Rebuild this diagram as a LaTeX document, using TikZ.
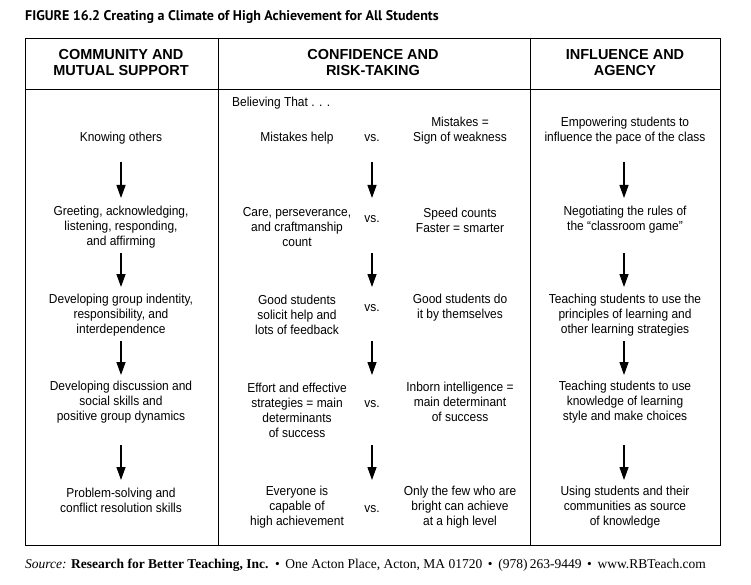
\documentclass[tikz,border=0pt]{standalone}
\usepackage{fontspec}
\setmainfont[FakeStretch=0.92]{Liberation Sans}
\newfontfamily\headfont{Liberation Sans}
\newfontfamily\titlefont{PT Sans}
\newfontfamily\footfont{Liberation Serif}
\usetikzlibrary{arrows.meta}
\begin{document}
\begin{tikzpicture}[x=1pt,y=-1pt,
  cell/.style={align=center,inner sep=0pt,font=\fontsize{13}{15}\selectfont},
  head/.style={align=center,inner sep=0pt,font=\headfont\fontsize{14.5}{16}\selectfont\bfseries},
  vsnode/.style={inner sep=0pt,font=\fontsize{13}{15}\selectfont},
  flow/.style={line width=1.3pt,-{Triangle[width=9pt,length=13pt]}},
  frame/.style={line width=0.9pt}]
\useasboundingbox (0,0) rectangle (751,585);
% title
\node[anchor=base west,inner sep=0pt,font=\titlefont\fontsize{14}{16}\selectfont\bfseries] (title) at (25,21) {FIGURE 16.2 Creating a Climate of High Achievement for All Students};
% table frame
\draw[frame] (25,38) rectangle (720,545);
\draw[frame] (25,89) -- (720,89);
\draw[frame] (218,38) -- (218,545);
\draw[frame] (530,38) -- (530,545);
% headers
\node[head] (h1) at (121,63) {COMMUNITY AND\\MUTUAL SUPPORT};
\node[head] (h2) at (373,63) {CONFIDENCE AND\\RISK-TAKING};
\node[head] (h3) at (625,63) {INFLUENCE AND\\AGENCY};
\node[anchor=base west,inner sep=0pt,font=\fontsize{13}{15}\selectfont] (believe) at (232,107) {Believing That . . .};
% column 1
\node[cell] (a1) at (121,138) {Knowing others};
\node[cell] (a2) at (121,227) {Greeting, acknowledging,\\listening, responding,\\and affirming};
\node[cell] (a3) at (121,315) {Developing group indentity,\\responsibility, and\\interdependence};
\node[cell] (a4) at (121,402) {Developing discussion and\\social skills and\\positive group dynamics};
\node[cell] (a5) at (121,500) {Problem-solving and\\conflict resolution skills};
% column 2 left
\node[cell] (b1) at (297,138) {Mistakes help};
\node[cell] (b2) at (297,227) {Care, perseverance,\\and craftmanship\\count};
\node[cell] (b3) at (297,315) {Good students\\solicit help and\\lots of feedback};
\node[cell] (b4) at (297,410) {Effort and effective\\strategies = main\\determinants\\of success};
\node[cell] (b5) at (297,507) {Everyone is\\capable of\\high achievement};
% vs
\node[vsnode] (v1) at (372,138) {vs.};
\node[vsnode] (v2) at (372,219) {vs.};
\node[vsnode] (v3) at (372,308) {vs.};
\node[vsnode] (v4) at (372,404) {vs.};
\node[vsnode] (v5) at (372,509) {vs.};
% column 2 right
\node[cell] (c1) at (460,131) {Mistakes =\\Sign of weakness};
\node[cell] (c2) at (460,220) {Speed counts\\Faster = smarter};
\node[cell] (c3) at (460,308) {Good students do\\it by themselves};
\node[cell] (c4) at (460,402) {Inborn intelligence =\\main determinant\\of success};
\node[cell] (c5) at (460,507) {Only the few who are\\bright can achieve\\at a high level};
% column 3
\node[cell] (d1) at (625,131) {Empowering students to\\influence the pace of the class};
\node[cell] (d2) at (625,220) {Negotiating the rules of\\the \textquotedblleft classroom game\textquotedblright};
\node[cell] (d3) at (625,315) {Teaching students to use the\\principles of learning and\\other learning strategies};
\node[cell] (d4) at (625,402) {Teaching students to use\\knowledge of learning\\style and make choices};
\node[cell] (d5) at (625,507) {Using students and their\\communities as source\\of knowledge};
% arrow coordinates
\foreach \n/\x in {a/121,v/372,d/624}{
  \coordinate (\n s1) at (\x,162); \coordinate (\n e1) at (\x,198);
  \coordinate (\n s2) at (\x,253); \coordinate (\n e2) at (\x,287);
  \coordinate (\n s3) at (\x,341); \coordinate (\n e3) at (\x,375);
  \coordinate (\n s4) at (\x,445); \coordinate (\n e4) at (\x,480);
}
\foreach \n in {a,v,d}{
  \foreach \i in {1,2,3,4}{
    \draw[flow] (\n s\i) -- (\n e\i);
  }
}
% footer
\node[anchor=base west,inner sep=0pt,font=\footfont\fontsize{13.5}{15}\selectfont] (foot) at (25,568) {\textit{Source:} \textbf{Research for Better Teaching, Inc.} \,\textbullet\, One Acton Place, Acton, MA 01720 \,\textbullet\, (978)\,263-9449 \,\textbullet\, www.RBTeach.com};
\end{tikzpicture}
\end{document}
